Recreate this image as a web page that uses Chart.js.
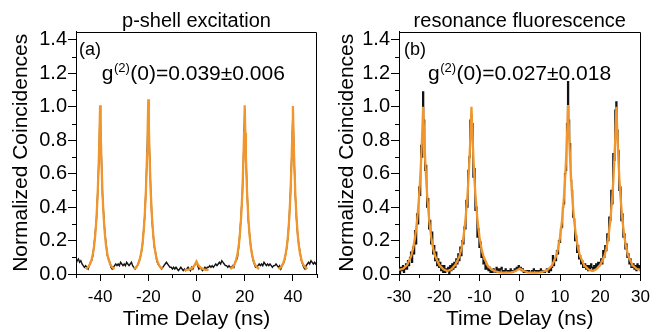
<!DOCTYPE html>
<html>
<head>
<meta charset="utf-8">
<script src="https://cdn.jsdelivr.net/npm/chart.js@4.4.1/dist/chart.umd.min.js"></script>
<style>
  html, body { margin: 0; padding: 0; background: #fff; }
  #wrap { position: relative; width: 656px; height: 332px; }
  .panel { position: absolute; top: 0; height: 332px; }
  #panelA { left: 0; width: 326px; }
  #panelB { left: 326px; width: 330px; }
</style>
</head>
<body>
<div id="wrap">
  <div class="panel" id="panelA"><canvas id="chartA"></canvas></div>
  <div class="panel" id="panelB"><canvas id="chartB"></canvas></div>
</div>
<script>
// ---- panel (a): p-shell excitation ----
const timesA = [
  -50,-49.5,-49,-48.5,-48,-47.5,-47,-46.5,-46,-45.5,
  -45,-44.5,-44,-43.5,-43,-42.5,-42,-41.5,-41,-40.5,
  -40,-39.5,-39,-38.5,-38,-37.5,-37,-36.5,-36,-35.5,
  -35,-34.5,-34,-33.5,-33,-32.5,-32,-31.5,-31,-30.5,
  -30,-29.5,-29,-28.5,-28,-27.5,-27,-26.5,-26,-25.5,
  -25,-24.5,-24,-23.5,-23,-22.5,-22,-21.5,-21,-20.5,
  -20,-19.5,-19,-18.5,-18,-17.5,-17,-16.5,-16,-15.5,
  -15,-14.5,-14,-13.5,-13,-12.5,-12,-11.5,-11,-10.5,
  -10,-9.5,-9,-8.5,-8,-7.5,-7,-6.5,-6,-5.5,
  -5,-4.5,-4,-3.5,-3,-2.5,-2,-1.5,-1,-0.5,
  0,0.5,1,1.5,2,2.5,3,3.5,4,4.5,
  5,5.5,6,6.5,7,7.5,8,8.5,9,9.5,
  10,10.5,11,11.5,12,12.5,13,13.5,14,14.5,
  15,15.5,16,16.5,17,17.5,18,18.5,19,19.5,
  20,20.5,21,21.5,22,22.5,23,23.5,24,24.5,
  25,25.5,26,26.5,27,27.5,28,28.5,29,29.5,
  30,30.5,31,31.5,32,32.5,33,33.5,34,34.5,
  35,35.5,36,36.5,37,37.5,38,38.5,39,39.5,
  40,40.5,41,41.5,42,42.5,43,43.5,44,44.5,
  45,45.5,46,46.5,47,47.5,48,48.5,49,49.5,50
];
const countsA = [
  0.06,0.08,0.09,0.07,0.08,0.06,0.05,0.04,0.05,0.04,
  0.03,0.05,0.07,0.08,0.11,0.17,0.25,0.33,0.49,0.68,
  0.99,0.72,0.47,0.35,0.24,0.18,0.11,0.09,0.07,0.04,
  0.03,0.04,0.05,0.06,0.05,0.06,0.05,0.07,0.06,0.05,
  0.06,0.05,0.07,0.06,0.05,0.06,0.07,0.05,0.04,0.03,
  0.04,0.05,0.07,0.09,0.12,0.16,0.25,0.34,0.50,0.71,
  1.02,0.73,0.50,0.33,0.24,0.16,0.13,0.08,0.06,0.05,
  0.04,0.03,0.04,0.05,0.06,0.07,0.06,0.05,0.04,0.04,
  0.03,0.04,0.03,0.04,0.03,0.02,0.03,0.04,0.03,0.02,
  0.03,0.02,0.03,0.04,0.03,0.02,0.04,0.03,0.05,0.06,
  0.07,0.05,0.03,0.04,0.03,0.02,0.03,0.04,0.03,0.04,
  0.04,0.05,0.04,0.05,0.04,0.05,0.06,0.05,0.06,0.07,
  0.06,0.08,0.07,0.06,0.05,0.05,0.04,0.05,0.04,0.04,
  0.05,0.04,0.07,0.08,0.10,0.16,0.24,0.35,0.47,0.69,
  0.99,0.71,0.49,0.32,0.24,0.17,0.12,0.08,0.06,0.04,
  0.04,0.05,0.06,0.05,0.06,0.05,0.07,0.06,0.05,0.06,
  0.05,0.06,0.05,0.04,0.05,0.05,0.06,0.05,0.04,0.05,
  0.03,0.05,0.06,0.08,0.12,0.16,0.23,0.34,0.49,0.70,
  0.98,0.69,0.47,0.33,0.23,0.17,0.13,0.08,0.06,0.04,
  0.03,0.05,0.06,0.07,0.06,0.08,0.07,0.06,0.07,0.06,0.07
];
// fit curve, one piece per peak (null = break in the line)
const fitTimesA = [
  -46,-45,-44.5,-44,-43.5,-43,-42.5,-42,-41.5,-41,-40.5,-40.25,-40,-39.75,-39.5,-39,-38.5,-38,-37.5,-37,-36.5,-36,-35.5,-35,-34,-33,
  -26,-25,-24.5,-24,-23.5,-23,-22.5,-22,-21.5,-21,-20.5,-20.25,-20,-19.75,-19.5,-19,-18.5,-18,-17.5,-17,-16.5,-16,-15.5,-15,-14,-13,
  -5,-4,-3,-2,-1.5,-1,-0.5,0,0.5,1,1.5,2,3,4,5,6,
  14,15,15.5,16,16.5,17,17.5,18,18.5,19,19.5,19.75,20,20.25,20.5,21,21.5,22,22.5,23,23.5,24,24.5,25,26,27,
  34,35,35.5,36,36.5,37,37.5,38,38.5,39,39.5,39.75,40,40.25,40.5,41,41.5,42,42.5,43,43.5,44,44.5,45,46
];
const fitValuesA = [
  0.03,0.041,0.051,0.066,0.088,0.12,0.166,0.235,0.335,0.48,0.70,0.845,1.01,0.845,0.70,0.48,0.335,0.235,0.166,0.12,0.088,0.066,0.051,0.041,0.03,null,
  0.03,0.041,0.052,0.067,0.09,0.123,0.17,0.242,0.345,0.495,0.72,0.87,1.045,0.87,0.72,0.495,0.345,0.242,0.17,0.123,0.09,0.067,0.052,0.041,0.03,null,
  0.025,0.025,0.028,0.035,0.04,0.048,0.06,0.075,0.06,0.048,0.04,0.035,0.028,0.025,0.025,null,
  0.03,0.041,0.051,0.066,0.088,0.12,0.166,0.235,0.335,0.48,0.70,0.845,1.01,0.845,0.70,0.48,0.335,0.235,0.166,0.12,0.088,0.066,0.051,0.041,0.03,null,
  0.03,0.041,0.051,0.066,0.088,0.12,0.166,0.235,0.335,0.48,0.70,0.84,1.005,0.84,0.70,0.48,0.335,0.235,0.166,0.12,0.088,0.066,0.051,0.041,0.03
];

// ---- panel (b): resonance fluorescence ----
const timesB = [
  -30,-29.75,-29.5,-29.25,-29,-28.75,-28.5,-28.25,
  -28,-27.75,-27.5,-27.25,-27,-26.75,-26.5,-26.25,
  -26,-25.75,-25.5,-25.25,-25,-24.75,-24.5,-24.25,
  -24,-23.75,-23.5,-23.25,-23,-22.75,-22.5,-22.25,
  -22,-21.75,-21.5,-21.25,-21,-20.75,-20.5,-20.25,
  -20,-19.75,-19.5,-19.25,-19,-18.75,-18.5,-18.25,
  -18,-17.75,-17.5,-17.25,-17,-16.75,-16.5,-16.25,
  -16,-15.75,-15.5,-15.25,-15,-14.75,-14.5,-14.25,
  -14,-13.75,-13.5,-13.25,-13,-12.75,-12.5,-12.25,
  -12,-11.75,-11.5,-11.25,-11,-10.75,-10.5,-10.25,
  -10,-9.75,-9.5,-9.25,-9,-8.75,-8.5,-8.25,
  -8,-7.75,-7.5,-7.25,-7,-6.75,-6.5,-6.25,
  -6,-5.75,-5.5,-5.25,-5,-4.75,-4.5,-4.25,
  -4,-3.75,-3.5,-3.25,-3,-2.75,-2.5,-2.25,
  -2,-1.75,-1.5,-1.25,-1,-0.75,-0.5,-0.25,
  0,0.25,0.5,0.75,1,1.25,1.5,1.75,
  2,2.25,2.5,2.75,3,3.25,3.5,3.75,
  4,4.25,4.5,4.75,5,5.25,5.5,5.75,
  6,6.25,6.5,6.75,7,7.25,7.5,7.75,
  8,8.25,8.5,8.75,9,9.25,9.5,9.75,
  10,10.25,10.5,10.75,11,11.25,11.5,11.75,
  12,12.25,12.5,12.75,13,13.25,13.5,13.75,
  14,14.25,14.5,14.75,15,15.25,15.5,15.75,
  16,16.25,16.5,16.75,17,17.25,17.5,17.75,
  18,18.25,18.5,18.75,19,19.25,19.5,19.75,
  20,20.25,20.5,20.75,21,21.25,21.5,21.75,
  22,22.25,22.5,22.75,23,23.25,23.5,23.75,
  24,24.25,24.5,24.75,25,25.25,25.5,25.75,
  26,26.25,26.5,26.75,27,27.25,27.5,27.75,
  28,28.25,28.5,28.75,29,29.25,29.5,29.75,
  30
];
const countsB = [
  0.03,0.00,0.04,0.02,0.05,0.01,0.03,0.06,
  0.03,0.08,0.05,0.10,0.13,0.07,0.16,0.12,
  0.26,0.18,0.36,0.30,0.52,0.47,0.77,0.70,
  1.09,0.92,0.62,0.65,0.40,0.45,0.27,0.32,
  0.18,0.25,0.12,0.17,0.08,0.13,0.05,0.09,
  0.04,0.07,0.02,0.05,0.01,0.05,0.01,0.03,
  0.02,0.04,0.00,0.05,0.02,0.06,0.03,0.07,
  0.04,0.09,0.06,0.12,0.08,0.16,0.11,0.20,
  0.18,0.28,0.27,0.44,0.40,0.62,0.70,0.92,
  0.95,0.90,0.58,0.63,0.38,0.40,0.22,0.27,
  0.16,0.19,0.10,0.12,0.06,0.08,0.03,0.05,
  0.03,0.02,0.04,0.01,0.02,0.01,0.03,0.02,
  0.01,0.04,0.02,0.03,0.01,0.03,0.04,0.01,
  0.02,0.01,0.03,0.02,0.01,0.02,0.01,0.03,
  0.02,0.01,0.02,0.03,0.02,0.04,0.03,0.05,
  0.03,0.04,0.02,0.03,0.01,0.02,0.01,0.02,
  0.01,0.02,0.01,0.01,0.02,0.01,0.03,0.02,
  0.01,0.02,0.01,0.02,0.01,0.03,0.02,0.01,
  0.02,0.01,0.02,0.03,0.02,0.01,0.03,0.02,
  0.04,0.11,0.05,0.09,0.08,0.14,0.12,0.20,
  0.19,0.27,0.28,0.40,0.42,0.60,0.62,0.90,
  1.15,0.92,0.78,0.56,0.50,0.34,0.33,0.20,
  0.23,0.13,0.17,0.09,0.11,0.06,0.08,0.04,
  0.04,0.06,0.03,0.05,0.02,0.05,0.03,0.06,
  0.04,0.02,0.05,0.03,0.06,0.04,0.07,0.05,
  0.07,0.09,0.06,0.14,0.10,0.17,0.14,0.24,
  0.20,0.34,0.32,0.50,0.42,0.72,0.68,0.98,
  1.03,0.86,0.74,0.50,0.52,0.32,0.36,0.22,
  0.24,0.15,0.18,0.10,0.12,0.06,0.09,0.04,
  0.04,0.06,0.03,0.05,0.02,0.06,0.03,0.05,
  0.02
];
const fitTimesB = [
  -30,-29,-28,-27,-26.5,-26,-25.5,-25,-24.75,-24.5,-24.25,-24,-23.75,-23.5,-23.25,-23,-22.5,-22,-21.5,-21,
  -20,-19,-18,-17,-16,-15,-14.5,-14,-13.5,-13,-12.75,-12.5,-12.25,-12,-11.75,-11.5,-11.25,-11,-10.5,-10,-9.5,-9,
  -8,-7,-6,-5,-4,-3,-2,-1,-0.5,0,0.5,1,2,3,4,5,6,7,8,
  9,9.5,10,10.5,11,11.25,11.5,11.75,12,12.25,12.5,12.75,13,13.5,14,14.5,15,
  16,17,18,19,20,21,21.5,22,22.5,23,23.25,23.5,23.75,24,24.25,24.5,24.75,25,25.5,26,26.5,27,28,29,30
];
const fitValuesB = [
  0.025,0.031,0.053,0.105,0.151,0.22,0.32,0.468,0.565,0.685,0.83,1.0,0.83,0.685,0.565,0.468,0.32,0.22,0.151,0.106,
  0.055,0.028,0.018,0.028,0.055,0.105,0.151,0.22,0.32,0.468,0.565,0.685,0.83,1.0,0.83,0.685,0.565,0.468,0.32,0.22,0.151,0.105,
  0.051,0.026,0.015,0.01,0.008,0.008,0.01,0.018,0.026,0.032,0.026,0.018,0.01,0.008,0.008,0.01,0.015,0.026,0.051,
  0.105,0.151,0.22,0.32,0.468,0.565,0.685,0.83,1.01,0.835,0.69,0.57,0.47,0.32,0.22,0.151,0.105,
  0.053,0.028,0.018,0.028,0.055,0.106,0.151,0.22,0.32,0.468,0.565,0.685,0.83,1.0,0.83,0.685,0.565,0.468,0.32,0.22,0.151,0.105,0.053,0.031,0.025
];

// ticks
const yTicks = [0, 0.2, 0.4, 0.6, 0.8, 1.0, 1.2, 1.4];
const yMinor = [0.1, 0.3, 0.5, 0.7, 0.9, 1.1, 1.3];
const xTicksA = [-40, -20, 0, 20, 40];
const xMinorA = [-50, -30, -10, 10, 30, 50];
const xTicksB = [-30, -20, -10, 0, 10, 20, 30];
const xMinorB = [-25, -15, -5, 5, 15, 25];

const FONT = "'Liberation Sans', Arial, Helvetica, sans-serif";
const ORANGE = 'rgb(240,150,45)';

function pairs(times, vals) {
    return times.map((t, i) => ({ x: t, y: vals[i] }));
}

// frame top/right, minor ticks, title and in-plot labels
const panelDecor = {
    id: 'panelDecor',
    afterDraw(chart, args, o) {
        const { ctx, chartArea: a, scales: { x, y } } = chart;
        ctx.save();
        ctx.strokeStyle = '#000';
        ctx.lineWidth = 1;
        ctx.beginPath();
        const top = Math.round(a.top) + 0.5;
        const right = Math.round(a.right) - 0.5;
        ctx.moveTo(a.left, top);
        ctx.lineTo(right, top);
        ctx.lineTo(right, a.bottom);
        o.minorX.forEach(v => {
            const px = Math.round(x.getPixelForValue(v)) + 0.5;
            ctx.moveTo(px, a.bottom);
            ctx.lineTo(px, a.bottom + 4);
        });
        o.minorY.forEach(v => {
            const py = Math.round(y.getPixelForValue(v)) + 0.5;
            ctx.moveTo(a.left - 4, py);
            ctx.lineTo(a.left, py);
        });
        ctx.stroke();

        ctx.fillStyle = '#000';
        ctx.textBaseline = 'alphabetic';
        ctx.textAlign = 'center';
        ctx.font = '20px ' + FONT;
        ctx.fillText(o.title, (a.left + a.right) / 2, 27);

        ctx.textAlign = 'left';
        ctx.font = '18px ' + FONT;
        ctx.fillText(o.tag, a.left + o.tagDx, 55);

        // g^(2)(0)=...
        let gx = a.left + o.gDx;
        const gy = 80;
        ctx.font = '21px ' + FONT;
        ctx.fillText('g', gx, gy);
        gx += ctx.measureText('g').width + 0.5;
        ctx.font = '13px ' + FONT;
        ctx.fillText('(2)', gx, gy - 8.5);
        gx += ctx.measureText('(2)').width + 0.5;
        ctx.font = '21px ' + FONT;
        ctx.fillText(o.value, gx, gy);
        ctx.restore();
    }
};

function makePanel(id, p) {
    return new Chart(document.getElementById(id), {
        type: 'line',
        data: {
            datasets: [
                {
                    label: 'fit',
                    data: pairs(p.fitTimes, p.fitValues),
                    borderColor: ORANGE,
                    borderWidth: 2.3,
                    pointRadius: 0,
                    tension: 0,
                    spanGaps: false,
                    order: 0
                },
                {
                    label: 'data',
                    data: pairs(p.times, p.counts),
                    borderColor: '#111',
                    borderWidth: p.dataWidth,
                    stepped: p.stepped,
                    pointRadius: 0,
                    tension: 0,
                    order: 1
                }
            ]
        },
        options: {
            responsive: true,
            maintainAspectRatio: false,
            animation: false,
            devicePixelRatio: 1,
            layout: { padding: { top: 31.6, right: p.padRight, left: 0, bottom: 0 } },
            plugins: {
                legend: { display: false },
                tooltip: { enabled: false },
                panelDecor: p.decor
            },
            scales: {
                x: {
                    type: 'linear',
                    min: p.xMin,
                    max: p.xMax,
                    afterBuildTicks: s => { s.ticks = p.xTicks.map(v => ({ value: v })); },
                    afterFit: s => { s.height = 58; },
                    border: { display: true, color: '#000', width: 1 },
                    grid: { drawOnChartArea: false, drawTicks: true, tickLength: 7, color: '#000' },
                    ticks: {
                        color: '#000',
                        font: { family: FONT, size: 17 },
                        padding: 6,
                        maxRotation: 0,
                        autoSkip: false,
                        callback: v => String(v)
                    },
                    title: {
                        display: true,
                        text: 'Time Delay (ns)',
                        color: '#000',
                        font: { family: FONT, size: 21 },
                        padding: { top: 0, bottom: 0 }
                    }
                },
                y: {
                    type: 'linear',
                    min: 0,
                    max: 1.45,
                    afterBuildTicks: s => { s.ticks = yTicks.map(v => ({ value: v })); },
                    afterFit: s => { s.width = p.yWidth; },
                    border: { display: true, color: '#000', width: 1 },
                    grid: { drawOnChartArea: false, drawTicks: true, tickLength: 8, color: '#000' },
                    ticks: {
                        color: '#000',
                        font: { family: FONT, size: 20 },
                        padding: 1,
                        callback: v => v.toFixed(1)
                    },
                    title: {
                        display: true,
                        text: 'Normalized Coincidences',
                        color: '#000',
                        font: { family: FONT, size: 21 },
                        padding: { top: 9, bottom: 0 }
                    }
                }
            }
        },
        plugins: [panelDecor]
    });
}

makePanel('chartA', {
    times: timesA, counts: countsA, fitTimes: fitTimesA, fitValues: fitValuesA,
    xMin: -50, xMax: 50, xTicks: xTicksA, yWidth: 76, padRight: 9,
    dataWidth: 1.4, stepped: false,
    decor: { title: 'p-shell excitation', tag: '(a)', tagDx: 3, gDx: 25.7,
             value: '(0)=0.039\u00b10.006', minorX: xMinorA, minorY: yMinor }
});
makePanel('chartB', {
    times: timesB, counts: countsB, fitTimes: fitTimesB, fitValues: fitValuesB,
    xMin: -30, xMax: 30, xTicks: xTicksB, yWidth: 73, padRight: 15,
    dataWidth: 1.3, stepped: 'middle',
    decor: { title: 'resonance fluorescence', tag: '(b)', tagDx: 5, gDx: 29,
             value: '(0)=0.027\u00b10.018', minorX: xMinorB, minorY: yMinor }
});
</script>
</body>
</html>
